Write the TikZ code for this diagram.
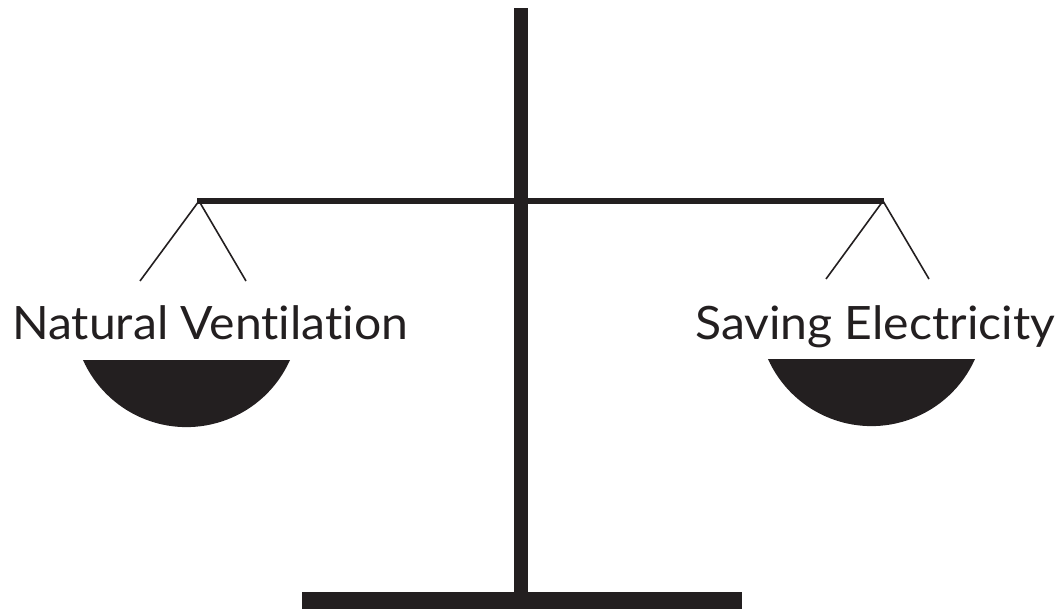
\documentclass[tikz,border=0pt]{standalone}
\usepackage{fontspec}
\setmainfont[Ligatures={NoCommon,NoDiscretionary}]{Lato}
\usepackage{graphicx}
\definecolor{ink}{HTML}{231F20}
\newcommand{\widetext}[1]{\scalebox{1.046}[1]{#1}}
\begin{document}
\begin{tikzpicture}[x=1pt,y=-1pt,
  solid part/.style={fill=ink},
  cord/.style={draw=ink,line width=1.6pt},
  lbl/.style={inner sep=0pt,text=ink,font=\fontsize{46}{50}\selectfont}]
\useasboundingbox (0,0) rectangle (1063,612);
% stand: foot, pole and beam
\fill[solid part] (302,592) rectangle (742,609);
\fill[solid part] (514,8) rectangle (528,600);
\fill[solid part] (197,198) rectangle (884,204.5);
% hanging points and cord ends
\coordinate (la) at (199,201);
\coordinate (ra) at (883,201);
\coordinate (l1) at (140,281);
\coordinate (l2) at (246,281);
\coordinate (r1) at (826,279);
\coordinate (r2) at (929,279);
\draw[cord] (l1) -- (la) -- (l2);
\draw[cord] (r1) -- (ra) -- (r2);
% pans: circle segments with a flat top
\fill[solid part] (290,360) arc[start angle=24.1,end angle=155.9,radius=113.4] -- cycle;
\fill[solid part] (975,359) arc[start angle=24.1,end angle=155.9,radius=113.4] -- cycle;
% labels
\node[lbl,anchor=base west] (nv) at (12,339) {\widetext{Natural Ventilation}};
\node[lbl,anchor=base west] (se) at (695,339) {\widetext{Saving Electricity}};
\end{tikzpicture}
\end{document}
